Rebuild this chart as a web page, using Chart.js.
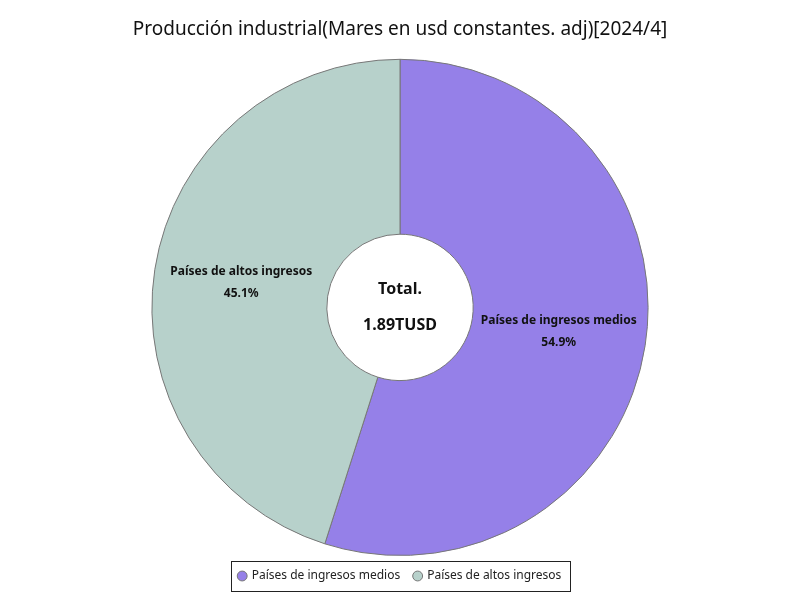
<!DOCTYPE html>
<html><head><meta charset="utf-8">
<script src="https://cdn.jsdelivr.net/npm/chart.js@4"></script>
<style>html,body{margin:0;padding:0;background:#fff}#w{width:800px;height:600px}</style>
</head><body><div id="w"><canvas id="c"></canvas></div>
<script>
const categories = ["Países de ingresos medios", "Países de altos ingresos"];
const values = [54.9, 45.1];
const colors = ["#9580e8", "#b7d1cb"];
const titleText = "Producción industrial(Mares en usd constantes. adj)[2024/4]";
const centerLines = ["Total.", "1.89TUSD"];
const FONT = "'Noto Sans', sans-serif";

const labelPlugin = {
  id: 'lbl',
  afterDatasetsDraw(chart) {
    const ctx = chart.ctx;
    const meta = chart.getDatasetMeta(0);
    ctx.save();
    ctx.textAlign = 'center'; ctx.textBaseline = 'middle';
    ctx.fillStyle = '#111';
    ctx.font = "bold 12px " + FONT;
    meta.data.forEach((arc, i) => {
      const p = arc.tooltipPosition();
      ctx.fillText(categories[i], p.x, p.y - 11);
      ctx.fillText(values[i].toFixed(1) + '%', p.x, p.y + 11);
    });
    const a = meta.data[0];
    ctx.font = "bold 16px " + FONT;
    ctx.fillText(centerLines[0], a.x, a.y - 18);
    ctx.fillText(centerLines[1], a.x, a.y + 18);
    // legend border
    const l = chart.legend;
    ctx.strokeStyle = '#222'; ctx.lineWidth = 1;
    ctx.strokeRect(Math.round(l.left + (l.width - l.legendItems.length) / 2 - 0) + 0.5, 0, 0, 0);
    ctx.restore();
  },
  afterDraw(chart) {
    const l = chart.legend, ctx = chart.ctx;
    const hb = l.legendHitBoxes;
    if (!hb || !hb.length) return;
    const x0 = hb[0].left - 8, x1 = hb[hb.length-1].left + hb[hb.length-1].width + 8;
    const y0 = hb[0].top - 9, y1 = hb[0].top + hb[0].height + 9;
    ctx.save(); ctx.strokeStyle = '#222'; ctx.lineWidth = 1;
    ctx.strokeRect(Math.round(x0)+0.5, Math.round(y0)+0.5, Math.round(x1-x0), Math.round(y1-y0));
    ctx.restore();
  }
};

new Chart(document.getElementById('c'), {
  type: 'doughnut',
  data: { labels: categories, datasets: [{ data: values, backgroundColor: colors, borderColor: '#777', borderWidth: 1 }] },
  options: {
    responsive: true, maintainAspectRatio: false, animation: false,
    cutout: '29.5%',
    layout: { padding: { top: 4, bottom: 8 } },
    plugins: {
      title: { display: true, text: titleText, color: '#111', font: { family: FONT, size: 19, weight: 'normal' }, padding: { top: 14, bottom: 18 } },
      legend: { position: 'bottom', labels: { usePointStyle: true, pointStyle: 'circle', boxWidth: 7, boxHeight: 7, color: '#222', font: { family: FONT, size: 12 }, padding: 14 } },
      tooltip: { enabled: false }
    }
  },
  plugins: [labelPlugin]
});
</script></body></html>
